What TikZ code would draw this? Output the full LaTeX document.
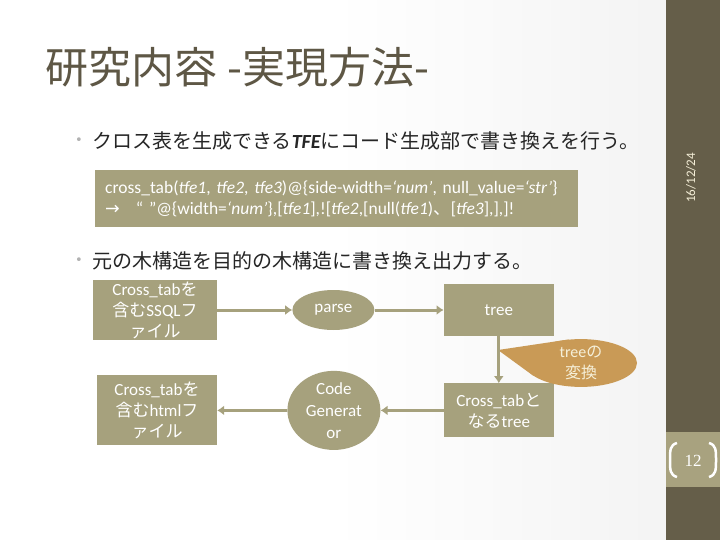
\documentclass[tikz,border=0pt]{standalone}
\usepackage{fontspec}
\setmainfont{Carlito}
\newfontfamily\cjk{Noto Sans CJK JP}
\newfontfamily\symfont{DejaVu Sans}
\newfontfamily\numfont{Liberation Serif}
\usetikzlibrary{positioning,shapes.geometric,backgrounds,arrows.meta}
\usepackage{xcolor}
\definecolor{flowtan}{HTML}{A6A17D}
\definecolor{sidebar}{HTML}{655E49}
\definecolor{pagebox}{HTML}{A8A27F}
\definecolor{titlecol}{HTML}{5E5745}
\definecolor{callout}{HTML}{C99A56}
\definecolor{cream}{HTML}{F5EFD8}
\pgfdeclarehorizontalshading{slidebg}{100bp}{color(0bp)=(white); color(50bp)=(white); color(100bp)=(black!9)}

\begin{document}
\begin{tikzpicture}[
    x=1pt, y=-1pt,
    box/.style={rectangle, fill=#1, text=white, align=center, inner sep=0pt,
                font=\fontsize{17}{21}\selectfont},
    oval/.style={ellipse, fill=#1, text=white, align=center, inner sep=0pt,
                 font=\fontsize{17}{22}\selectfont},
    arr/.style={-{Latex[length=7pt, width=10pt]}, line width=3pt, draw=flowtan},
    bullet/.style={anchor=west, inner sep=0pt, text=black!85,
                   font=\fontsize{20}{24}\selectfont},
    dot/.style={text=gray!60, inner sep=0pt, font=\symfont\fontsize{13}{13}\selectfont}
]
\useasboundingbox (0,0) rectangle (720,540);

% Slide background and side bar
\begin{scope}[on background layer]
\shade[shading=slidebg] (0,0) rectangle (666,540);
\fill[sidebar] (666,0) rectangle (720,540);
\fill[pagebox] (666,432) rectangle (720,487);
\end{scope}

% Title and bullets
\node[anchor=west, inner sep=0pt, text=titlecol, font=\cjk\fontsize{43}{47}\selectfont] (title) at (45,67) {研究内容\hspace{10pt}-実現方法-};
\node[bullet] (b1) at (92,141) {{\cjk クロス表を生成できる}\textbf{\textit{TFE}}{\cjk にコード生成部で書き換えを行う。}};
\node[dot, left=9pt of b1.west] (dot1) {•};
\node[rectangle, fill=flowtan, text=white, anchor=north west, align=left,
      text width=463pt, inner xsep=10pt, inner ysep=0pt, minimum height=57pt,
      font=\fontsize{17.5}{21}\selectfont] (code) at (95,170)
  {cross\_tab(\textit{tfe1}, \textit{tfe2}, \textit{tfe3})@\{side-width=\textit{‘num’}, null\_value=\textit{‘str’}\}\\
   {\symfont →}\hspace{16pt}“ ”@\{width=\textit{‘num’}\},[\textit{tfe1}],![\textit{tfe2},[null(\textit{tfe1}){\cjk 、}[\textit{tfe3}],],]!};
\node[bullet] (b2) at (92,261) {\cjk 元の木構造を目的の木構造に書き換え出力する。};
\node[dot, left=9pt of b2.west] (dot2) {•};

% Top row: input file -> parse -> tree
\node[box=flowtan, minimum width=124pt, minimum height=60pt] (sqlfile) at (155,310)
  {Cross\_tab{\cjk を}\\{\cjk 含む}SSQL{\cjk フ}\\{\cjk ァイル}};
\node[oval=flowtan, minimum width=82pt, minimum height=40pt, right=75pt of sqlfile] (parse) {parse};
\node[box=flowtan, minimum width=110pt, minimum height=52pt, right=69pt of parse] (tree) {tree};

% Bottom row: converted tree -> code generator -> html file
\node[box=flowtan, minimum width=110pt, minimum height=54pt, below=47pt of tree] (crosstree)
  {Cross\_tab{\cjk と}\\{\cjk なる}tree};
\node[oval=flowtan, minimum width=93pt, minimum height=70pt, left=63pt of crosstree] (codegen) {Code\\Generat\\or};
\node[box=flowtan, minimum width=120pt, minimum height=70pt, left=70pt of codegen] (htmlfile)
  {Cross\_tab{\cjk を}\\{\cjk 含む}html{\cjk フ}\\{\cjk ァイル}};

\draw[arr] (sqlfile) -- (parse);
\draw[arr] (parse) -- (tree);
\draw[arr] (tree) -- (crosstree);
\draw[arr] (crosstree) -- (codegen);
\draw[arr] (codegen) -- (htmlfile);

% Callout on the tree conversion
\node[oval=callout, text=cream, minimum width=112pt, minimum height=43pt,
      font=\fontsize{16}{21}\selectfont] (change) at (581,363)
  {tree{\cjk の}\\{\cjk 変換}};
\coordinate (tip) at (498,350);
\begin{scope}[on background layer]
\fill[callout] (tip) -- (change.118) -- (change.195) -- cycle;
\end{scope}

% Side bar: date and page number
\node[rotate=90, text=cream, inner sep=0pt, font=\fontsize{13}{15}\selectfont] (date) at (691,178) {16/12/24};
\node[text=white, inner sep=0pt, font=\numfont\fontsize{17}{17}\selectfont] (pagenum) at (693,461) {12};
\draw[white, line width=2.5pt] (677,443) .. controls (670,445) and (670,450) .. (670,460)
  .. controls (670,470) and (670,475) .. (677,477);
\draw[white, line width=2.5pt] (709,443) .. controls (716,445) and (716,450) .. (716,460)
  .. controls (716,470) and (716,475) .. (709,477);
\end{tikzpicture}
\end{document}
